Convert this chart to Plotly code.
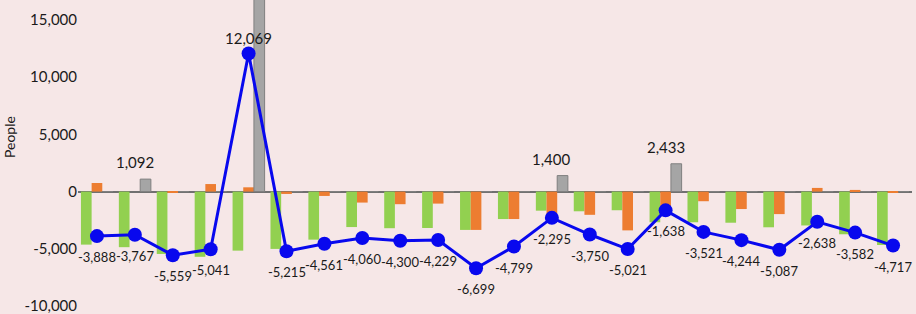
import plotly.graph_objects as go

categories = [f"C{i}" for i in range(1, 23)]
green_vals = [-4635, -4859, -5450, -5700, -5160, -5010, -4200, -3100, -3200, -3180, -3350,
              -2400, -1667, -1720, -1630, -2680, -2680, -2720, -3120, -2960, -3730, -4670]
orange_vals = [750, 0, -110, 660, 375, -205, -380, -960, -1100, -1049, -3349,
               -2399, -2028, -2030, -3390, -1391, -841, -1524, -1967, 322, 148, -47]
gray_vals = [0, 1092, 0, 0, 16854, 0, 0, 0, 0, 0, 0,
             0, 1400, 0, 0, 2433, 0, 0, 0, 0, 0, 0]
line_vals = [-3888, -3767, -5559, -5041, 12069, -5215, -4561, -4060, -4300, -4229, -6699,
             -4799, -2295, -3750, -5021, -1638, -3521, -4244, -5087, -2638, -3582, -4717]
y_ticks = [-10000, -5000, 0, 5000, 10000, 15000]
y_tick_labels = ["-10,000", "-5,000", "0", "5,000", "10,000", "15,000"]

FONT = "Lato"
fig = go.Figure()
fig.add_trace(go.Bar(x=categories, y=green_vals, marker=dict(color="#92D050", line=dict(width=0)),
                     name="green"))
fig.add_trace(go.Bar(x=categories, y=orange_vals, marker=dict(color="#ED7D31", line=dict(width=0)),
                     name="orange"))
fig.add_trace(go.Bar(x=categories, y=gray_vals,
                     marker=dict(color="#A5A5A5", line=dict(width=1, color="#7F7F7F")),
                     name="gray"))
fig.add_trace(go.Scatter(x=categories, y=line_vals, mode="lines+markers",
                         line=dict(color="#0808EE", width=3),
                         marker=dict(color="#0808EE", size=14), name="net"))

annotations = []
for c, v in zip(categories, line_vals):
    above = v > 0
    annotations.append(dict(x=c, y=v, text=f"{v:,}", showarrow=False,
                            yshift=16 if above else -21,
                            font=dict(family=FONT, size=13 if not above else 15, color="#1a1a1a")))
for c, v in zip(categories, gray_vals):
    if 0 < v < 15000:
        annotations.append(dict(x=c, y=v, text=f"{v:,}", showarrow=False, yshift=17,
                                font=dict(family=FONT, size=15, color="#1a1a1a")))
annotations.append(dict(text="People", xref="paper", yref="paper", x=-0.083, y=0.563,
                        xanchor="center", yanchor="middle", textangle=-90, showarrow=False,
                        font=dict(family=FONT, size=14, color="#1a1a1a")))

fig.update_layout(
    width=916, height=314,
    margin=dict(l=78, r=4, t=0, b=0, pad=0, autoexpand=False),
    paper_bgcolor="#F6E7E7", plot_bgcolor="#F6E7E7",
    barmode="group", bargap=0.155, bargroupgap=0,
    showlegend=False,
    annotations=annotations,
    xaxis=dict(range=[-0.5, 21.5], showticklabels=False, showgrid=False, zeroline=False,
               showline=False, automargin=False, ticks=""),
    yaxis=dict(range=[-10700, 16750], tickvals=y_ticks, ticktext=y_tick_labels,
               showgrid=False, zeroline=True, zerolinecolor="#707070", zerolinewidth=2,
               automargin=False, ticks="", ticklabeloverflow="allow",
               tickfont=dict(family=FONT, size=15, color="#1a1a1a")),
)
fig.write_html("out.html", config={"displayModeBar": False},
               post_script="document.body.style.margin='0';document.body.style.overflow='hidden';")
